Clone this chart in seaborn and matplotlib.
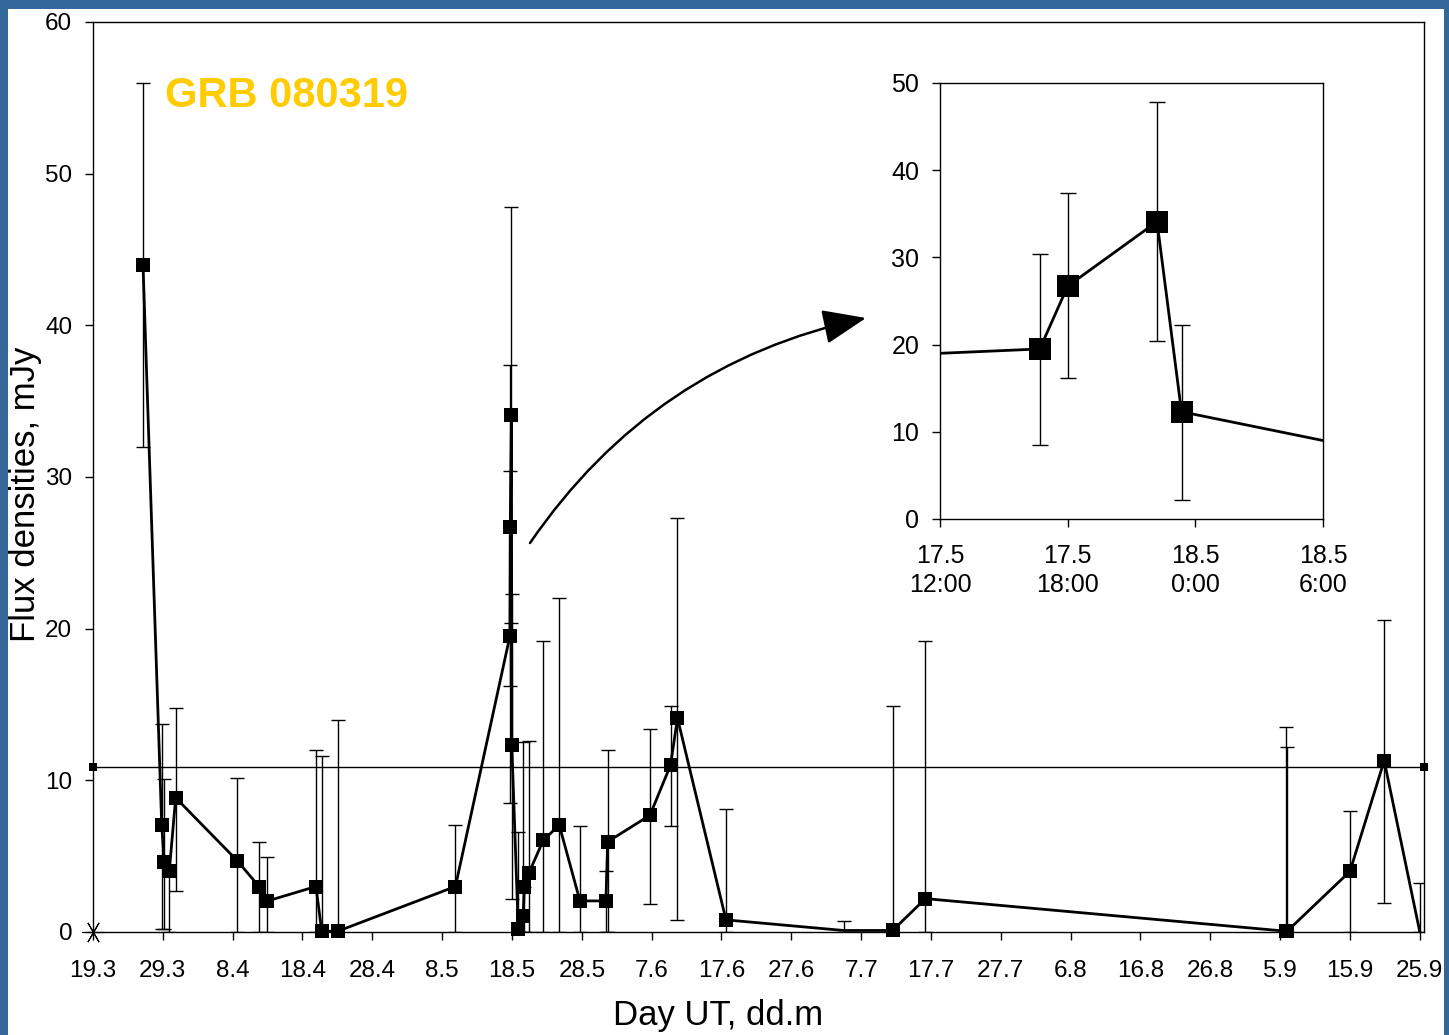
import numpy as np
import matplotlib.pyplot as plt
from matplotlib.patches import Rectangle
import seaborn as sns

# GRB 080319 light curve; x = days after 19.3 (19 March 2008)
days = [7.16, 9.84, 10.21, 10.93, 11.84, 20.66, 23.77, 24.87, 31.93, 32.75,
        35.04, 51.9, 59.695, 59.75, 59.92, 59.97, 60.9, 61.6, 61.76, 62.43,
        64.48, 66.77, 69.73, 73.45, 73.7, 79.76, 82.7, 83.7, 90.64, 107.5,
        114.5, 119.2, 170.9, 171.0, 180.0, 184.9, 190.0]
flux = [44.0, 7.05, 4.6, 4.05, 8.85, 4.7, 3.0, 2.03, 3.0, 0.05,
        0.05, 3.0, 19.5, 26.7, 34.1, 12.3, 0.2, 1.05, 2.95, 3.9,
        6.05, 7.05, 2.05, 2.05, 5.95, 7.7, 11.0, 14.1, 0.8, 0.1,
        0.1, 2.2, 0.05, 0.05, 4.0, 11.3, 0.0]
flux_lo = [32.0, 0.2, 0.2, 0.0, 2.7, 0, 0, 0, 0, 0,
           0, 0, 8.5, 16.2, 20.4, 2.2, 0, 0, 0, 0,
           0, 0, 0, 0, 0, 1.85, 7.0, 0.76, 0, 0,
           0, 0, 0, 0, 0, 1.9, 0]
flux_hi = [56.0, 13.7, 10.1, 4.05, 14.8, 10.15, 5.95, 4.95, 12.0, 11.6,
           14.0, 7.05, 30.4, 37.4, 47.8, 22.3, 6.6, 12.5, 2.95, 12.6,
           19.2, 22.0, 7.0, 4.0, 12.0, 13.4, 14.9, 27.3, 8.1, 0.75,
           14.9, 19.2, 13.5, 12.2, 8.0, 20.6, 3.25]
shown = [True] * 29 + [False] + [True] * 6 + [False]

tick_days = list(range(0, 191, 10))
tick_labels = ["19.3", "29.3", "8.4", "18.4", "28.4", "8.5", "18.5", "28.5",
               "7.6", "17.6", "27.6", "7.7", "17.7", "27.7", "6.8", "16.8",
               "26.8", "5.9", "15.9", "25.9"]

ref_days = [0, 190.6]
ref_level = [10.9, 10.9]

# inset: hours after 17.5 12:00
ins_hours = [0.0, 4.69, 6.0, 10.2, 11.35, 18.0]
ins_flux = [19.0, 19.5, 26.7, 34.1, 12.3, 9.0]
ins_lo = [19.0, 8.5, 16.2, 20.4, 2.2, 9.0]
ins_hi = [19.0, 30.4, 37.4, 47.8, 22.3, 9.0]
ins_shown = [False, True, True, True, True, False]
ins_ticks = [0, 6, 12, 18]
ins_labels = ["17.5\n12:00", "17.5\n18:00", "18.5\n0:00", "18.5\n6:00"]

sns.set_theme(style="white")
plt.rcParams["font.family"] = ["Liberation Sans", "DejaVu Sans"]

W, H = 1449, 1035
fig = plt.figure(figsize=(W / 100, H / 100), dpi=100)
fig.patch.set_facecolor("#336699")
fig.add_artist(Rectangle((8 / W, 0), (1444 - 8) / W, 1 - 9 / H,
                         transform=fig.transFigure, facecolor="white",
                         edgecolor="none", zorder=0))

ax = fig.add_axes([93 / W, 1 - 932 / H, (1424 - 93) / W, (932 - 22) / H])
ax.set_facecolor("white")

d = np.array(days)
f = np.array(flux)
yerr = [f - np.array(flux_lo), np.array(flux_hi) - f]
m = np.array(shown)

sns.lineplot(x=ref_days, y=ref_level, ax=ax, color="black", lw=1.0,
             estimator=None, sort=False, marker="s", markersize=6,
             markeredgewidth=0, clip_on=False, zorder=2)
ax.errorbar(d, f, yerr=yerr, fmt="none", ecolor="black", elinewidth=1.0,
            capsize=5, capthick=1.0, zorder=3)
sns.lineplot(x=d, y=f, ax=ax, color="black", lw=2.0, estimator=None,
             sort=False, zorder=4)
sns.scatterplot(x=d[m], y=f[m], ax=ax, marker="s", s=115, color="black",
                linewidth=0, clip_on=False, zorder=5)
ax.plot([0], [0], marker=(6, 2, 30), markersize=16, color="black",
        markeredgewidth=0.8, clip_on=False, zorder=5)

ax.set_xlim(0, 190.6)
ax.set_ylim(0, 60)
ax.set_xticks(tick_days)
ax.set_xticklabels(tick_labels)
ax.set_yticks(range(0, 61, 10))
ax.tick_params(axis="both", direction="out", length=6, width=1.0,
               colors="black", labelsize=17.5, bottom=True, left=True)
ax.tick_params(axis="x", pad=14)
ax.tick_params(axis="y", pad=9)
for s in ax.spines.values():
    s.set_color("black")
    s.set_linewidth(1.0)

ax.set_xlabel("Day UT, dd.m", fontsize=25, color="black")
ax.set_ylabel("Flux densities, mJy", fontsize=25, color="black")
ax.xaxis.set_label_coords(0.4696, -0.074)
ax.yaxis.set_label_coords(-0.038, 0.481)

ax.text(0.054, 0.919, "GRB 080319", transform=ax.transAxes, fontsize=30,
        fontweight="bold", color="#FFCC00", ha="left", va="center")

# inset
ins = fig.add_axes([940 / W, 1 - 519 / H, (1323 - 940) / W, (519 - 83) / H])
ins.set_facecolor("white")
hx = np.array(ins_hours)
hy = np.array(ins_flux)
hm = np.array(ins_shown)
ierr = [hy - np.array(ins_lo), np.array(ins_hi) - hy]
ins.errorbar(hx[hm], hy[hm], yerr=[ierr[0][hm], ierr[1][hm]], fmt="none",
             ecolor="black", elinewidth=1.0, capsize=6, capthick=1.0,
             zorder=3)
sns.lineplot(x=hx, y=hy, ax=ins, color="black", lw=2.0, estimator=None,
             sort=False, zorder=4)
sns.scatterplot(x=hx[hm], y=hy[hm], ax=ins, marker="s", s=230,
                color="black", linewidth=0, zorder=5)
ins.set_xlim(0, 18)
ins.set_ylim(0, 50)
ins.set_xticks(ins_ticks)
ins.set_xticklabels(ins_labels, linespacing=1.25)
ins.set_yticks(range(0, 51, 10))
ins.tick_params(axis="both", direction="out", length=6, width=1.0,
                colors="black", labelsize=18, bottom=True, left=True)
ins.tick_params(axis="x", pad=12)
ins.tick_params(axis="y", pad=9)
ins.set_xlabel("")
ins.set_ylabel("")
for s in ins.spines.values():
    s.set_color("black")
    s.set_linewidth(1.0)

ax.annotate("", xy=(866 / W, 1 - 318 / H), xytext=(530 / W, 1 - 543 / H),
            xycoords="figure fraction", textcoords="figure fraction",
            arrowprops=dict(arrowstyle="-|>,head_length=0.9,head_width=0.36",
                            connectionstyle="arc3,rad=-0.2", color="black",
                            lw=1.8, mutation_scale=30, shrinkA=0, shrinkB=0))

fig.savefig("out.png", dpi=100, facecolor=fig.get_facecolor())
